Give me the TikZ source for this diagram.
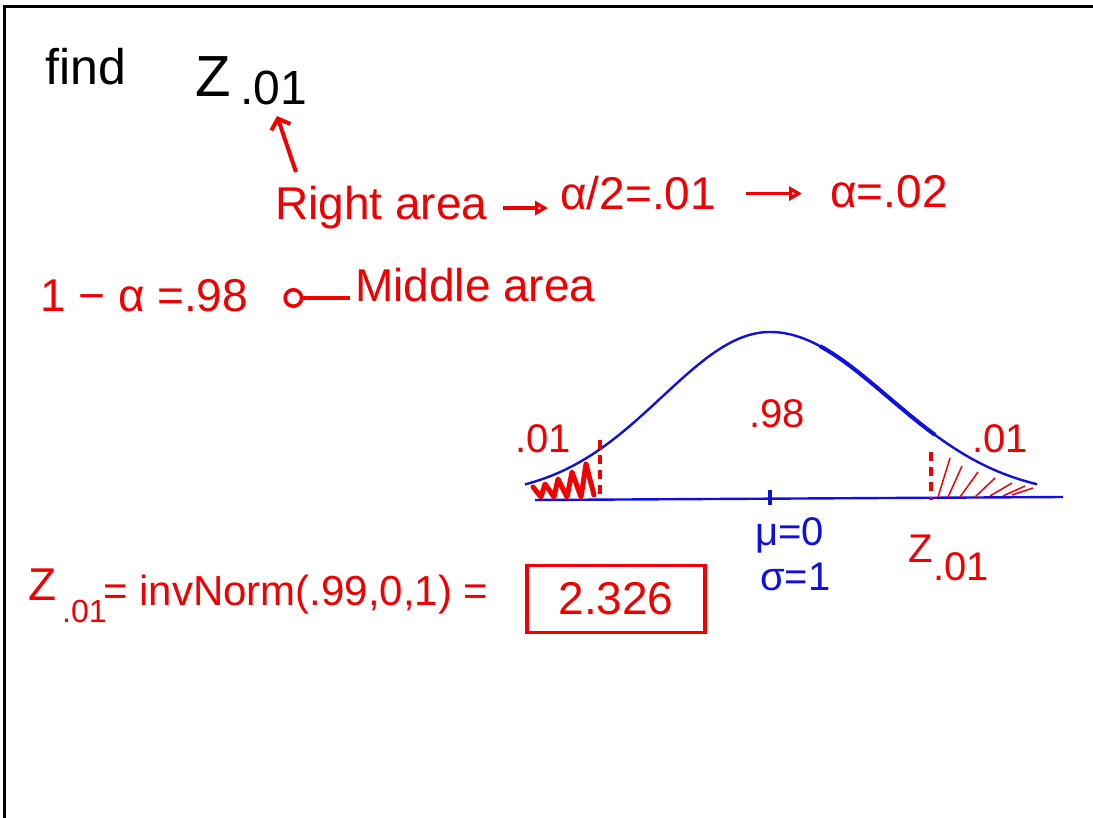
\documentclass[tikz,border=0pt]{standalone}
\usepackage{fontspec}
\setmainfont{Liberation Sans}
\usetikzlibrary{arrows.meta, positioning, calc}
\definecolor{inkred}{RGB}{240,0,0}
\definecolor{inkblue}{RGB}{15,15,225}

\begin{document}
\begin{tikzpicture}[
		x=1pt, y=-1pt,
		every node/.style={inner sep=0pt},
		blackText/.style={text=black, font=\fontsize{50}{60}\selectfont},
		redText/.style={text=inkred, font=\fontsize{46}{55}\selectfont},
		smallRed/.style={text=inkred, font=\fontsize{40}{48}\selectfont},
		blueText/.style={text=inkblue, font=\fontsize{40}{48}\selectfont},
		arrow/.style={-{Triangle[open, length=13pt, width=14pt]}, line width=3.5pt, draw=inkred},
		circArrow/.style={-{Circle[open, length=20pt]}, line width=3.5pt, draw=inkred},
		upArrow/.style={-{Straight Barb[length=9pt, width=20pt]}, line width=4pt, draw=inkred},
		curve/.style={draw=inkblue, line width=2.4pt},
		tailLine/.style={draw=inkred, line width=3.5pt, dash pattern=on 9pt off 6pt},
		hatch/.style={draw=inkred, line width=1.5pt},
		answerBox/.style={draw=inkred, line width=3.5pt, minimum width=178pt, minimum height=67pt, text=inkred, font=\fontsize{46}{55}\selectfont}
		]
		\useasboundingbox (0,0) rectangle (1093,818);
		\draw[line width=3pt] (4,818) -- (4,7) -- (1093,7);

		% Nodes
		\node[blackText, anchor=base west] (find) at (45,85) {find};
		\node[blackText, font=\fontsize{58}{70}\selectfont, anchor=base west] (zbig) at (195,97) {Z};
		\node[blackText, font=\fontsize{48}{58}\selectfont, anchor=base west] (zsub) at (240,105) {.01};

		\node[redText, anchor=base west] (right) at (275,220) {Right area};
		\node[redText, anchor=base west] (half) at (560,210) {α/2=.01};
		\node[redText, anchor=base west] (alpha) at (830,208) {α=.02};

		\node[redText, anchor=base west] (oneMinus) at (40,312) {1 − α =};
		\node[redText, anchor=base west] (nine) at (184,312) {.98};
		\node[redText, anchor=base west] (middle) at (355,302) {Middle area};

		\node[smallRed, anchor=base west] (leftTail) at (515,453) {.01};
		\node[smallRed, anchor=base west] (center) at (749,428) {.98};
		\node[smallRed, anchor=base west] (rightTail) at (972,452) {.01};
		\node[blueText, anchor=base west] (mu) at (755,545) {μ=0};
		\node[blueText, anchor=base west] (sigma) at (760,590) {σ=1};
		\node[smallRed, anchor=base west] (zcrit) at (908,562) {Z};
		\node[smallRed, anchor=base west] (zcritSub) at (933,580) {.01};

		\node[redText, anchor=base west] (zform) at (28,600) {Z};
		\node[redText, font=\fontsize{32}{38}\selectfont, anchor=base west] (zformSub) at (62,622) {.01};
		\node[redText, font=\fontsize{42}{50}\selectfont, anchor=base west] (invnorm) at (103,605) {= invNorm(.99,0,1) =};
		\node[answerBox] (answer) at (616,599) {2.326};

		% Arrows
		\coordinate (tail) at (296,172);
		\draw[upArrow, shorten >=11pt] (tail) -- (zsub.south);
		\draw[arrow, shorten <=15pt, shorten >=12pt] (right.east) -- (right.east -| half.west);
		\draw[arrow, shorten <=30pt, shorten >=28pt] (half.east) -- (half.east -| alpha.west);
		\draw[circArrow, shorten <=5pt, shorten >=35pt] ([yshift=4pt]middle.base west) -- ([yshift=4pt]middle.base west -| nine.east);

		% Curve
		\draw[curve] plot[domain=525:1037, samples=120] (\x, {497-165*exp(-0.5*((\x-770)/(\x<770 ? 108 : 118))^2)});
		\draw[curve, line width=4pt] plot[domain=820:935, samples=30] (\x, {497-165*exp(-0.5*((\x-770)/118)^2)});
		\draw[curve] (535,500) -- (1063,497);
		\draw[curve, line width=3.5pt] (770,490) -- (770,505);

		% Tails
		\draw[tailLine] (600,440) -- (600,500);
		\draw[tailLine] (931,452) -- (931,500);
		\draw[draw=inkred, line width=5pt, line join=round, line cap=round] (533,487) -- (541,497) -- (545,484) -- (554,497) -- (558,479) -- (567,497) -- (572,472) -- (581,497) -- (586,464) -- (594,495);
		\foreach \a/\b/\c/\d in {938/497/950/458, 948/497/962/466, 960/497/978/472, 975/497/995/478, 990/496/1012/483, 1003/496/1025/486, 1012/495/1033/488}
			\draw[hatch] (\a,\b) -- (\c,\d);

	\end{tikzpicture}
\end{document}
